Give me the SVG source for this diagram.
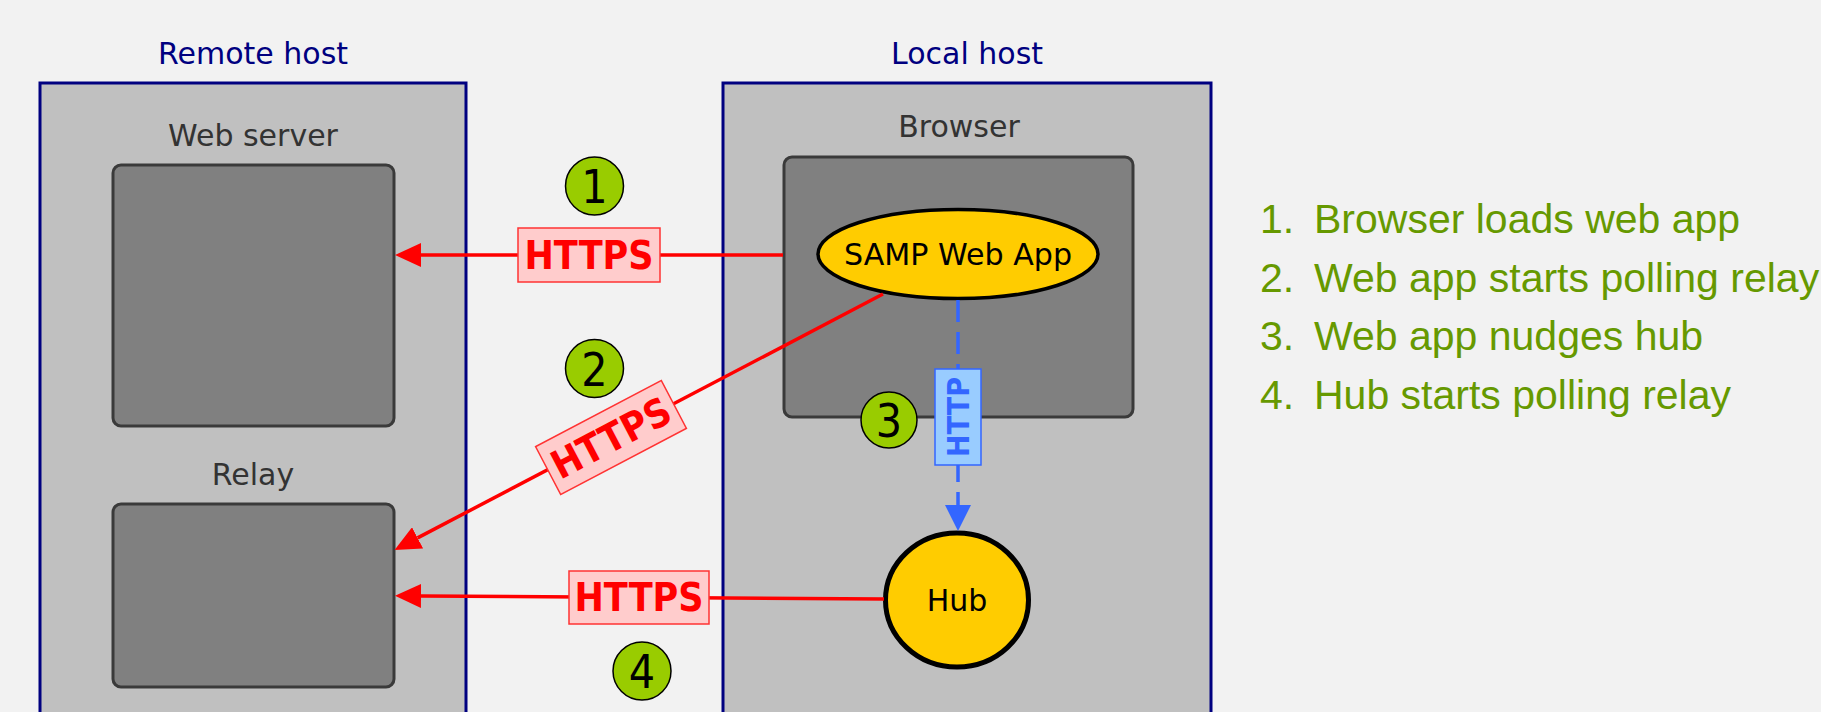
<svg xmlns="http://www.w3.org/2000/svg" width="1821" height="712" viewBox="0 0 1821 712">
<style>
.host{fill:#c0c0c0;stroke:#000080;stroke-width:3}
.hostlbl{font-family:"DejaVu Sans",sans-serif;font-size:30px;fill:#000080;text-anchor:middle}
.inner{fill:#808080;stroke:#3a3a3a;stroke-width:3}
.innerlbl{font-family:"DejaVu Sans",sans-serif;font-size:30px;fill:#333333;text-anchor:middle}
.app{fill:#ffcc00;stroke:#000;stroke-width:3.5}
.hub{fill:#ffcc00;stroke:#000;stroke-width:5}
.applbl{font-family:"DejaVu Sans",sans-serif;font-size:30px;fill:#000;text-anchor:middle}
.https{fill:none;stroke:#ff0000;stroke-width:3.5}
.http{fill:none;stroke:#3366ff;stroke-width:3.5;stroke-dasharray:22 10}
.lblbox{fill:#ffcccc;stroke:#ff3333;stroke-width:1.5}
.lbltxt{font-family:"DejaVu Sans Condensed","DejaVu Sans",sans-serif;font-weight:bold;font-size:39px;fill:#ff0000;text-anchor:middle}
.hlblbox{fill:#99ccff;stroke:#3366ff;stroke-width:1.5}
.hlbltxt{font-family:"DejaVu Sans Condensed","DejaVu Sans",sans-serif;font-weight:bold;font-size:30px;fill:#3366ff;text-anchor:middle}
.step{fill:#99cc00;stroke:#000;stroke-width:1.5}
.steptxt{font-family:"DejaVu Sans Condensed","DejaVu Sans",sans-serif;font-size:46px;fill:#000;text-anchor:middle}
.legend{font-family:"Liberation Sans",Arial,sans-serif;font-size:41px;fill:#669900}
</style>
<defs>
<marker id="redArrow" markerUnits="userSpaceOnUse" markerWidth="26" markerHeight="24" refX="0" refY="12" orient="auto">
<path d="M0,0 L26,12 L0,24 z" fill="#ff0000"/>
</marker>
<marker id="blueArrow" markerUnits="userSpaceOnUse" markerWidth="26" markerHeight="26" refX="0" refY="13" orient="auto">
<path d="M0,0 L26,13 L0,26 z" fill="#3366ff"/>
</marker>
</defs>
<rect x="0" y="0" width="1821" height="712" fill="#f2f2f2"/>

<g id="remote-host">
<rect class="host" x="40" y="83" width="426" height="660"/>
<text class="hostlbl" x="253" y="64">Remote host</text>
</g>
<g id="local-host">
<rect class="host" x="723" y="83" width="488" height="660"/>
<text class="hostlbl" x="967" y="64">Local host</text>
</g>
<g id="web-server">
<rect class="inner" x="113" y="165" width="281" height="261" rx="8"/>
<text class="innerlbl" x="253" y="146">Web server</text>
</g>
<g id="relay">
<rect class="inner" x="113" y="504" width="281" height="183" rx="8"/>
<text class="innerlbl" x="253" y="485">Relay</text>
</g>
<g id="browser">
<rect class="inner" x="784" y="157" width="349" height="260" rx="8"/>
<text class="innerlbl" x="959" y="137">Browser</text>
</g>
<g id="samp-web-app">
<ellipse class="app" cx="958" cy="254" rx="140" ry="44.5"/>
<text class="applbl" x="958" y="265" textLength="228" lengthAdjust="spacingAndGlyphs">SAMP Web App</text>
</g>
<g id="hub">
<ellipse class="hub" cx="957" cy="600" rx="71.5" ry="67"/>
<text class="applbl" x="957" y="611">Hub</text>
</g>

<g id="connectors">
<line class="https" x1="783" y1="255" x2="421" y2="255" marker-end="url(#redArrow)"/>
<line class="https" x1="883" y1="294" x2="417.6" y2="537.9" marker-end="url(#redArrow)"/>
<line class="https" x1="884" y1="599" x2="421" y2="596" marker-end="url(#redArrow)"/>
<line class="http" x1="958" y1="300" x2="958" y2="505" marker-end="url(#blueArrow)"/>

<g id="label-1">
<rect class="lblbox" x="518" y="228" width="142" height="54"/>
<text class="lbltxt" x="589" y="269">HTTPS</text>
</g>
<g id="label-2" transform="translate(611,437.5) rotate(-27.7)">
<rect class="lblbox" x="-71" y="-27" width="142" height="54"/>
<text class="lbltxt" x="0" y="14">HTTPS</text>
</g>
<g id="label-3" transform="translate(958,417) rotate(-90)">
<rect class="hlblbox" x="-48" y="-23" width="96" height="46"/>
<text class="hlbltxt" x="0" y="11">HTTP</text>
</g>
<g id="label-4">
<rect class="lblbox" x="569" y="571" width="140" height="53"/>
<text class="lbltxt" x="639" y="611">HTTPS</text>
</g>
</g>

<g id="step-1">
<circle class="step" cx="594.5" cy="186" r="29"/>
<text class="steptxt" x="594.5" y="203">1</text>
</g>
<g id="step-2">
<circle class="step" cx="594.5" cy="368.5" r="29"/>
<text class="steptxt" x="594.5" y="385.5">2</text>
</g>
<g id="step-3">
<circle class="step" cx="889" cy="420" r="28"/>
<text class="steptxt" x="889" y="437">3</text>
</g>
<g id="step-4">
<circle class="step" cx="642" cy="671" r="29"/>
<text class="steptxt" x="642" y="688">4</text>
</g>

<g id="legend">
<text class="legend" x="1260" y="233">1.</text>
<text class="legend" x="1314" y="233">Browser loads web app</text>
<text class="legend" x="1260" y="292">2.</text>
<text class="legend" x="1314" y="292">Web app starts polling relay</text>
<text class="legend" x="1260" y="350">3.</text>
<text class="legend" x="1314" y="350">Web app nudges hub</text>
<text class="legend" x="1260" y="409">4.</text>
<text class="legend" x="1314" y="409">Hub starts polling relay</text>
</g>
</svg>
